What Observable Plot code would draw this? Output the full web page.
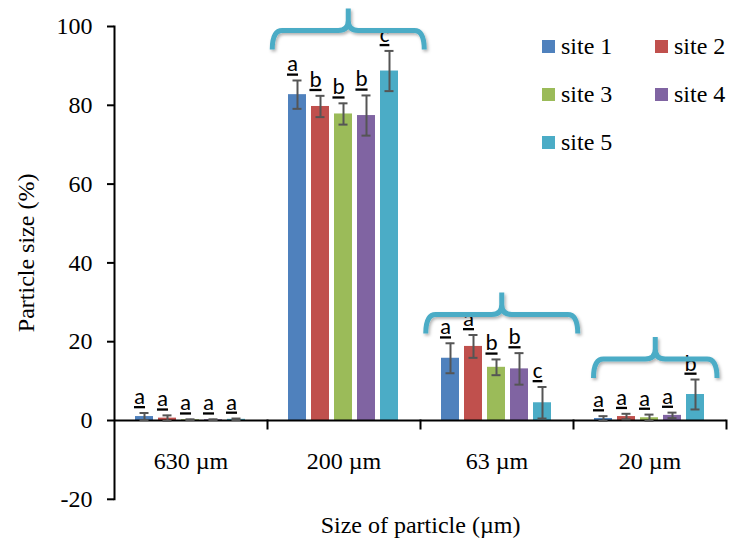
<!DOCTYPE html>
<html>
<head>
<meta charset="utf-8">
<script src="https://cdn.jsdelivr.net/npm/d3@7"></script>
<script src="https://cdn.jsdelivr.net/npm/@observablehq/plot@0.6"></script>
<style>
  body { margin: 0; background: white; }
  #wrap { position: relative; width: 731px; height: 546px; }
  #legend { position: absolute; left: 542px; top: 33px; display: grid; grid-template-columns: 113px 80px; row-gap: 22px;
            font-family: 'Liberation Serif'; font-size: 24px; color: black; }
  .item { display: flex; align-items: center; height: 26px; white-space: nowrap; }
  .sw { width: 13px; height: 13px; margin-right: 6px; flex: none; }
  .sig text { text-decoration: underline; text-decoration-thickness: 2.5px; text-underline-offset: 3px; }
</style>
</head>
<body>
<div id="wrap"></div>
<script>
const categories = ["630 µm", "200 µm", "63 µm", "20 µm"];
const sites = ["site 1", "site 2", "site 3", "site 4", "site 5"];
const colors = ["#4F81BD", "#C0504D", "#9BBB59", "#8064A2", "#4BACC6"];
// mean values per site, in category order
const site1 = [1.0, 82.7, 15.8, 0.5];
const site2 = [0.6, 79.7, 18.8, 1.0];
const site3 = [0.2, 77.8, 13.5, 0.7];
const site4 = [0.2, 77.4, 13.1, 1.3];
const site5 = [0.3, 88.7, 4.5, 6.6];
// error (±) per site
const err1 = [0.9, 3.6, 3.8, 0.6];
const err2 = [0.7, 2.7, 2.9, 0.7];
const err3 = [0.1, 2.7, 2.0, 0.8];
const err4 = [0.1, 5.1, 4.0, 0.7];
const err5 = [0.2, 5.1, 4.0, 3.8];
// significance letters per site
const let1 = ["a", "a", "a", "a"];
const let2 = ["a", "b", "a", "a"];
const let3 = ["a", "b", "b", "a"];
const let4 = ["a", "b", "b", "a"];
const let5 = ["a", "c", "c", "b"];
const yTicks = [-20, 0, 20, 40, 60, 80, 100];
const bracedGroups = ["200 µm", "63 µm", "20 µm"];

const means = [site1, site2, site3, site4, site5];
const errs = [err1, err2, err3, err4, err5];
const lets = [let1, let2, let3, let4, let5];
const data = categories.flatMap((c, i) => sites.map((s, j) => ({
  category: c, site: s, mean: means[j][i], err: errs[j][i], letter: lets[j][i]
})));

const W = 731, H = 546;
const serif = "Liberation Serif";
const sans = "Carlito";
const plot = Plot.plot({
  width: W, height: H,
  marginLeft: 113, marginRight: 4, marginTop: 26, marginBottom: 47.2,
  style: {background: "white", color: "black"},
  fx: {domain: categories, paddingInner: 0, paddingOuter: 0},
  x: {domain: sites, paddingInner: 0.213, paddingOuter: 0.874, axis: null},
  y: {domain: [-20, 100]},
  color: {domain: sites, range: colors},
  marks: [
    Plot.barY(data, {fx: "category", x: "site", y: "mean", fill: "site"}),
    Plot.ruleY([0], {stroke: "black", strokeWidth: 2}),
    Plot.frame({anchor: "right", insetTop: 394, insetBottom: 70.8, stroke: "black", strokeWidth: 2}),
    Plot.frame({anchor: "left", facetAnchor: "left", stroke: "black", strokeWidth: 2}),
    Plot.ruleX(data, {fx: "category", x: "site", y1: d => d.mean - d.err, y2: d => d.mean + d.err, stroke: "#555555", strokeWidth: 2}),
    Plot.tickY(data, {fx: "category", x: "site", y: d => d.mean + d.err, stroke: "#555555", strokeWidth: 2, insetLeft: 4.5, insetRight: 4.5}),
    Plot.tickY(data, {fx: "category", x: "site", y: d => d.mean - d.err, stroke: "#555555", strokeWidth: 2, insetLeft: 4.5, insetRight: 4.5}),
    Plot.text(data, {fx: "category", x: "site", y: d => d.mean + d.err, text: "letter", lineAnchor: "bottom",
      dy: -9, dx: -5, fontSize: 23, fill: "black", className: "sig"}),
    Plot.axisY({ticks: yTicks, tickSize: 7, tickPadding: 15, tickFormat: d => String(d), fontSize: 24,
      strokeWidth: 2, label: "Particle size (%)", labelAnchor: "center", labelArrow: "none", labelOffset: 98}),
    Plot.axisFx({anchor: "bottom", tickSize: 0, tickPadding: -47, fontSize: 24,
      label: "Size of particle (µm)", labelAnchor: "center", labelOffset: 34})
  ]
});

const svg = d3.select(plot);
// fonts: serif (Times-like) everywhere, Calibri-like for the significance letters
svg.attr("font-family", serif).style("font-family", serif);
svg.selectAll("g").attr("font-family", null);
svg.selectAll("text").style("font-family", serif);
svg.selectAll(".sig text").style("font-family", sans);
// nudge the y-axis title up a little, as in the original
const yl = svg.select('g[aria-label="y-axis label"]');
if (!yl.empty()) yl.attr("transform", (yl.attr("transform") || "") + " translate(0,-10)");

// braces above groups, via the plot's scales
const fxs = plot.scale("fx"), ys = plot.scale("y");
const fxScale = d3.scaleBand(fxs.domain, fxs.range).paddingInner(fxs.paddingInner ?? 0).paddingOuter(fxs.paddingOuter ?? 0).align(fxs.align ?? 0.5);
const yScale = d3.scaleLinear(ys.domain, ys.range);
const defs = svg.append("defs");
defs.append("filter").attr("id", "sh").attr("x", "-10%").attr("y", "-30%").attr("width", "120%").attr("height", "160%")
  .append("feDropShadow").attr("dx", 1.5).attr("dy", 2).attr("stdDeviation", 1.5).attr("flood-color", "#000").attr("flood-opacity", 0.3);
for (const g of bracedGroups) {
  const top = d3.max(data.filter(d => d.category === g), d => d.mean + d.err);
  const yEnd = yScale(top) - 1, yH = yEnd - 19, yP = yH - 22;
  const xc = fxScale(g) + fxScale.bandwidth() / 2 + 5;
  const half = Math.min(76, W - 14 - xc);
  const x0 = xc - half, x1 = xc + half, r = 10;
  const p = `M${x0},${yEnd} Q${x0},${yH} ${x0 + r},${yH} L${xc - r},${yH} Q${xc},${yH} ${xc},${yH - r} L${xc},${yP}` +
            ` M${xc},${yP} L${xc},${yH - r} Q${xc},${yH} ${xc + r},${yH} L${x1 - r},${yH} Q${x1},${yH} ${x1},${yEnd}`;
  svg.append("path").attr("d", p).attr("fill", "none").attr("stroke", "#4BACC6").attr("stroke-width", 5)
    .attr("stroke-linejoin", "round").attr("filter", "url(#sh)");
}

const wrap = document.getElementById("wrap");
wrap.appendChild(plot);
const legend = document.createElement("div");
legend.id = "legend";
sites.forEach((s, i) => {
  const it = document.createElement("div");
  it.className = "item";
  it.innerHTML = `<span class="sw" style="background:${colors[i]}"></span><span>${s}</span>`;
  legend.appendChild(it);
});
wrap.appendChild(legend);
</script>
</body>
</html>
